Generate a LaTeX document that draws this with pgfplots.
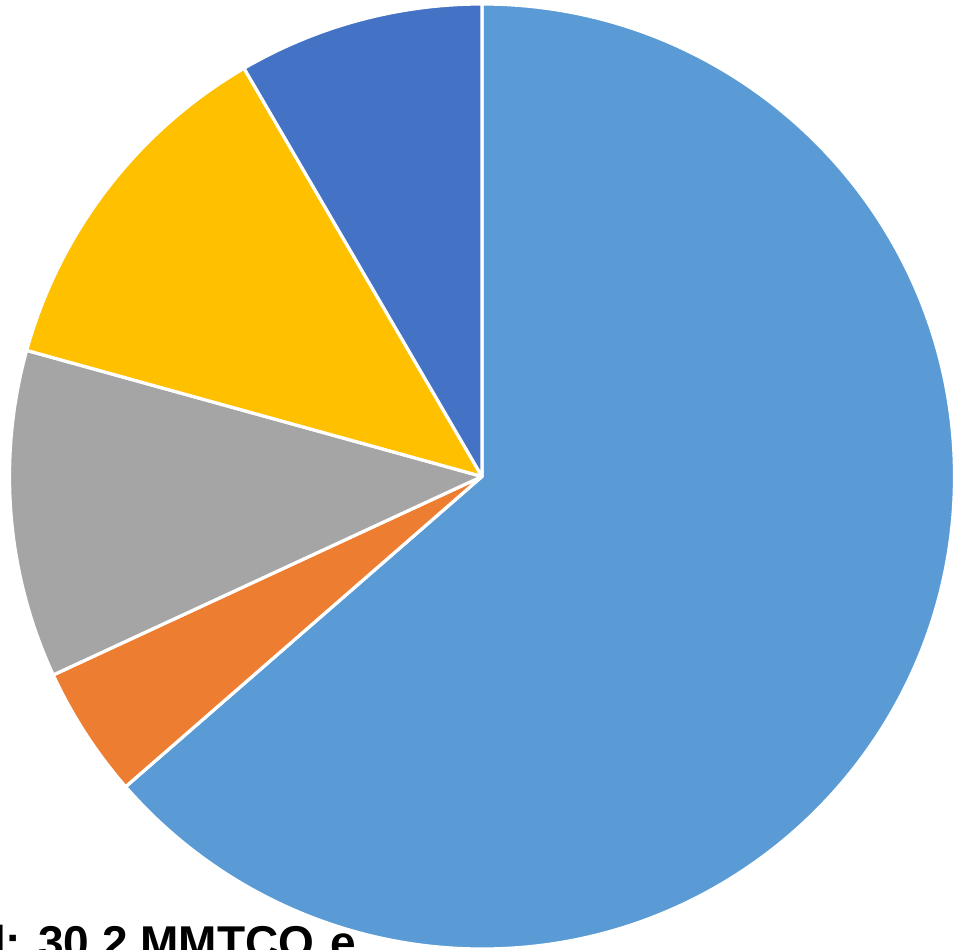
\documentclass[border=0pt]{standalone}
\usepackage{pgfplots}
\usepackage{pgfplotstable}
\pgfplotsset{compat=1.18}
\usepackage{fontspec}
\setmainfont{Liberation Sans}
\definecolor{cA}{HTML}{5B9BD5}
\definecolor{cB}{HTML}{ED7D31}
\definecolor{cC}{HTML}{A5A5A5}
\definecolor{cD}{HTML}{FFC000}
\definecolor{cE}{HTML}{4472C4}
\pgfplotstableread{
share
63.6
4.5
11.2
12.3
8.4
}\piedata
\newcommand\getshare[2]{\pgfplotstablegetelem{#1}{share}\of\piedata\global\let#2\pgfplotsretval}
\getshare{0}\sA \getshare{1}\sB \getshare{2}\sC \getshare{3}\sD \getshare{4}\sE
\pgfmathsetmacro\aA{90}
\pgfmathsetmacro\aB{90-3.6*\sA}
\pgfmathsetmacro\aC{\aB-3.6*\sB}
\pgfmathsetmacro\aD{\aC-3.6*\sC}
\pgfmathsetmacro\aE{\aD-3.6*\sD}
\pgfmathsetmacro\aF{\aE-3.6*\sE}
\begin{document}
\begin{tikzpicture}
\useasboundingbox (0,0) rectangle (477pt,474.5pt);
\clip (0,0) rectangle (477pt,474.5pt);
\begin{axis}[
  x=0.5pt, y=0.5pt,
  xmin=0, xmax=954, ymin=0, ymax=949,
  hide axis, clip=false,
  anchor=origin, at={(0,0)},
]
\newcommand\slice[3]{%
  \filldraw[fill=#1, draw=white, line width=1.6pt, line join=round]
    (axis cs:482,472.5) -- ++(#2:236.25pt)
    arc[start angle=#2, end angle=#3, radius=236.25pt] -- cycle;}
\slice{cA}{\aA}{\aB}
\slice{cB}{\aB}{\aC}
\slice{cC}{\aC}{\aD}
\slice{cD}{\aD}{\aE}
\slice{cE}{\aE}{\aF}
\node[anchor=base west, inner sep=0pt, font=\fontsize{23}{27}\selectfont\bfseries]
  at (axis cs:-101,-9) {Total: 30.2 MMTCO\raisebox{-0.4em}{\fontsize{15}{15}\selectfont 2}e};
\end{axis}
\end{tikzpicture}
\end{document}
